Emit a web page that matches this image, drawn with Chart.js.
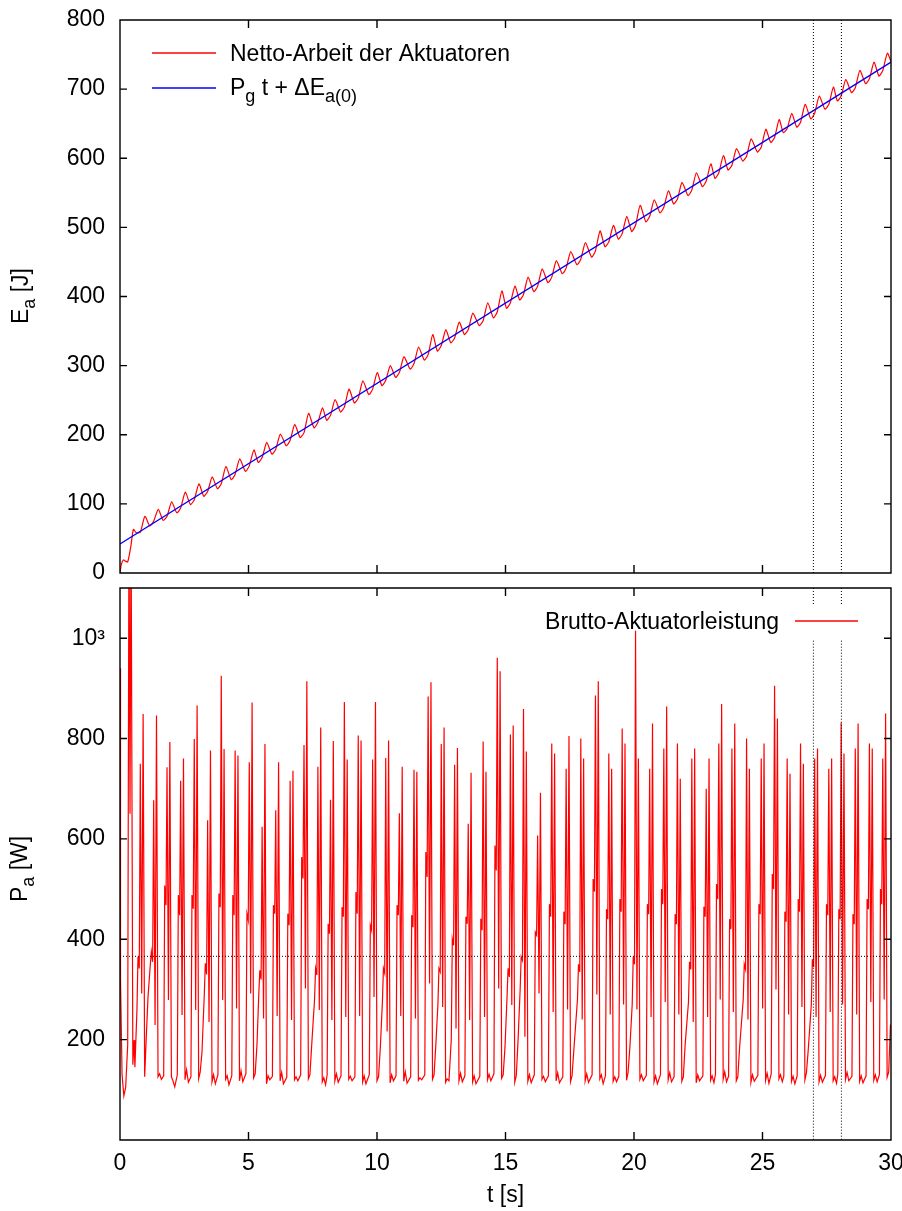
<!DOCTYPE html>
<html><head><meta charset="utf-8">
<script src="https://cdn.jsdelivr.net/npm/chart.js@4/dist/chart.umd.min.js"></script>
<style>
html,body{margin:0;padding:0;background:#fff;}
#wrap{position:relative;width:902px;height:1211px;background:#fff;}
canvas{position:absolute;left:0;}
#c1{top:0;} #c2{top:580px;}
</style></head><body>
<div id="wrap"><canvas id="c1" width="902" height="580"></canvas><canvas id="c2" width="902" height="631"></canvas></div>
<script>
// ---------- data ----------
const X_TICKS = [0,5,10,15,20,25,30];
const E_TICKS = [0,100,200,300,400,500,600,700,800];
const P_TICKS = [200,400,600,800,1000];
const MARK_T = [26.98, 28.07];
const P_MEAN = 366;
const FIT_T = [0, 30];
const FIT_E = [42, 739];

// time of the first power spike in each stride cycle [s]
const T_A = [0.79,1.31,1.83,2.36,2.89,3.41,3.94,4.48,5.03,5.53,6.06,6.62,7.16,7.70,8.19,8.73,9.27,9.83,10.34,10.87,11.44,11.99,12.50,13.02,13.55,14.13,14.68,15.19,15.70,16.25,16.80,17.36,17.93,18.50,19.02,19.54,20.06,20.61,21.16,21.69,22.25,22.81,23.30,23.81,24.38,24.95,25.47,25.96,26.48,27.03,27.58,28.06,28.61,29.16,29.68];

// net work curve: value before rise, at rise start and at peak of each cycle [J]
const E_PHASE = [-0.15, 0, 0.18];
const E_DIP_A = [58,68,76,87,99,111,122,135,147,160,172,184,196,210,221,233,246,258,271,283,295,308,321,333,345,358,369,383,395,407,420,433,446,457,472,483,494,508,521,534,546,559,571,583,596,609,623,637,645,657,671,683,695,708,719];
const E_DIP_B = [59,75,82,94,106,118,129,143,155,167,179,192,203,218,228,240,253,266,279,290,303,316,329,340,352,365,378,391,403,415,428,441,454,466,479,491,503,516,529,541,554,567,579,590,603,616,630,643,652,665,678,690,702,715,727];
const E_PEAK  = [82,92,103,117,129,139,154,165,178,189,201,215,231,239,251,266,278,290,300,313,327,345,352,363,376,391,408,415,428,440,452,465,478,495,503,516,532,540,553,565,579,592,604,614,628,642,656,665,678,690,703,714,727,739,752];
const E_START_T = [0,0.05,0.13,0.22,0.30,0.42,0.52];
const E_START   = [0,12,19,17,16,38,63];
const E_END_T = [30.05];
const E_END   = [734];

// gross actuator power: samples of each cycle [W]
const P_PHASE = [-0.13,-0.09,-0.04,0,0.055,0.11,0.17,0.23,0.30];
const P_RISE    = [260,350,128,130,126,290,130,128,132,290,127,125,130,280,130,128,126,130,275,128,126,130,270,200,128,127,132,285,300,130,128,126,280,130,128,127,270,129,130,126,275,128,131,127,280,129,132,127,128,270,129,131,127,128,130];
const P_PLAT    = [365,375,507,488,488,352,491,488,451,338,468,451,564,342,431,464,494,428,342,468,448,574,342,401,445,441,587,342,365,414,470,455,350,520,460,480,365,470,500,450,355,465,510,440,350,470,530,455,480,360,470,460,450,480,500];
const P_PDIP    = [342,355,468,448,461,330,464,448,438,320,451,428,521,329,411,445,451,418,332,448,424,524,335,388,431,418,537,325,358,408,445,430,335,495,440,455,350,450,470,430,340,445,480,420,340,450,500,435,455,345,448,440,430,460,470];
const P_SPIKE_A = [750,677,743,716,799,637,925,776,753,624,657,716,787,744,678,873,806,758,761,651,738,884,789,748,630,794,961,808,859,607,790,740,800,886,770,820,1015,740,780,790,760,700,790,780,800,760,905,760,790,760,740,832,780,790,760];
const P_MID     = [292,229,279,249,259,235,279,262,292,242,247,239,302,259,239,245,247,285,216,247,242,312,265,222,239,245,302,269,206,292,255,260,240,290,250,270,260,245,275,250,235,245,280,255,240,262,300,250,265,245,255,270,250,275,280];
const P_SPIKE_B = [849,846,793,760,866,776,779,766,872,789,753,736,914,822,795,758,796,873,796,744,734,912,822,781,732,734,934,826,774,692,770,805,760,914,740,790,760,830,864,720,780,760,869,830,740,790,840,730,750,780,760,770,830,780,850];
const P_LOW     = [126,126,126,120,122,116,121,118,124,112,118,120,122,116,118,121,116,118,114,117,119,121,115,118,116,120,123,115,117,121,118,116,118,122,117,119,121,116,120,117,114,119,121,118,115,119,122,117,120,116,118,121,117,119,125];
const P_BUMP    = [202,132,118,140,135,130,128,138,132,128,135,126,130,124,132,127,128,126,130,136,124,130,122,133,128,131,130,128,130,127,134,128,132,130,126,135,130,128,134,126,130,128,136,126,130,133,130,127,134,129,126,135,128,130,135];
const P_TAIL    = [285,121,106,115,175,112,110,116,190,120,112,118,190,110,115,118,112,185,118,113,120,190,118,116,112,118,185,200,114,116,114,180,115,112,116,185,118,112,116,190,118,114,116,185,117,113,116,112,180,115,113,118,114,116,230];
const P_START_T = [0,0.02,0.08,0.15,0.22,0.30,0.35,0.39,0.43,0.50,0.55,0.58];
const P_START   = [940,320,130,88,105,190,1250,650,1250,150,199,145];

// ---------- build point tables ----------
const eData = [];
E_START_T.forEach((t,i)=>eData.push({x:t,y:E_START[i]}));
T_A.forEach((ta,k)=>{
  const v=[E_DIP_A[k],E_DIP_B[k],E_PEAK[k]];
  E_PHASE.forEach((d,j)=>eData.push({x:+(ta+d).toFixed(3),y:v[j]}));
});
E_END_T.forEach((t,i)=>eData.push({x:t,y:E_END[i]}));

const pData = [];
P_START_T.forEach((t,i)=>pData.push({x:t,y:P_START[i]}));
T_A.forEach((ta,k)=>{
  const v=[P_RISE[k],P_PLAT[k],P_PDIP[k],P_SPIKE_A[k],P_MID[k],P_SPIKE_B[k],P_LOW[k],P_BUMP[k],P_TAIL[k]];
  P_PHASE.forEach((d,j)=>pData.push({x:+(ta+d).toFixed(3),y:v[j]}));
});
const fitData = FIT_T.map((t,i)=>({x:t,y:FIT_E[i]}));

const FONT = "'Liberation Sans', Arial, Helvetica, sans-serif";
Chart.defaults.font.family = FONT;
Chart.defaults.color = '#000';

function rich(ctx, parts, x, y, align){
  let w=0;
  parts.forEach(p=>{ctx.font=(p[1]?18:23)+'px '+FONT; w+=ctx.measureText(p[0]).width;});
  let cx = align==='center'? x-w/2 : align==='right'? x-w : x;
  parts.forEach(p=>{ctx.font=(p[1]?18:23)+'px '+FONT; ctx.fillText(p[0],cx,y+(p[1]?7:0)); cx+=ctx.measureText(p[0]).width;});
}

function framePlugin(yTicks){
  return {id:'frame', afterDatasetsDraw(chart){
    const {ctx, chartArea:a, scales:{x,y}} = chart;
    ctx.save();
    ctx.setLineDash([]);
    ctx.strokeStyle='#000'; ctx.lineWidth=1.4;
    ctx.beginPath();
    ctx.rect(a.left,a.top,a.right-a.left,a.bottom-a.top);
    X_TICKS.forEach(v=>{const px=x.getPixelForValue(v); ctx.moveTo(px,a.bottom); ctx.lineTo(px,a.bottom-8); ctx.moveTo(px,a.top); ctx.lineTo(px,a.top+8);});
    yTicks.forEach(v=>{const py=y.getPixelForValue(v); ctx.moveTo(a.left,py); ctx.lineTo(a.left+7,py); ctx.moveTo(a.right,py); ctx.lineTo(a.right-7,py);});
    ctx.stroke(); ctx.restore();
  }};
}

const dotted = {borderColor:'#000', borderWidth:1, borderDash:[1,2], pointRadius:0, tension:0, fill:false};

function noPad(s){ s.paddingTop=0; s.paddingBottom=0; s.paddingLeft=0; s.paddingRight=0; }

function yScale(min,max,ticks,cb){
  return {type:'linear', min, max,
    afterBuildTicks:s=>{s.ticks=ticks.map(v=>({value:v}));},
    afterFit:s=>{s.width=120; noPad(s);},
    grid:{display:false, drawTicks:false}, border:{display:false},
    ticks:{font:{size:23}, padding:15, color:'#000', callback:cb||(v=>v)}};
}

function legendLine(ctx,color,x1,x2,y){
  ctx.save(); ctx.setLineDash([]); ctx.strokeStyle=color; ctx.lineWidth=1.5;
  ctx.beginPath(); ctx.moveTo(x1,y); ctx.lineTo(x2,y); ctx.stroke(); ctx.restore();
}

// ---------- top chart ----------
new Chart(document.getElementById('c1'), {
  type:'line',
  data:{datasets:[
    Object.assign({data:[{x:MARK_T[0],y:0},{x:MARK_T[0],y:800}]}, dotted),
    Object.assign({data:[{x:MARK_T[1],y:0},{x:MARK_T[1],y:800}]}, dotted),
    {data:fitData, borderColor:'#0000ff', borderWidth:1.3, pointRadius:0, tension:0},
    {data:eData, borderColor:'#ff0000', borderWidth:1.2, pointRadius:0, tension:0.2}
  ]},
  options:{responsive:false, animation:false, events:[],
    layout:{autoPadding:false, padding:{top:20,right:11,bottom:7,left:0}},
    plugins:{legend:{display:false}, tooltip:{enabled:false}},
    scales:{
      x:{type:'linear', min:0, max:30, display:false, afterFit:s=>{s.height=0; noPad(s);}},
      y:yScale(0,800,E_TICKS)
    }},
  plugins:[framePlugin(E_TICKS), {id:'txt1', afterDraw(chart){
    const ctx=chart.ctx;
    legendLine(ctx,'#ff0000',152,216,53);
    legendLine(ctx,'#0000ff',152,216,88);
    ctx.save(); ctx.fillStyle='#000'; ctx.textBaseline='alphabetic';
    rich(ctx,[['Netto-Arbeit der Aktuatoren',0]],230,61,'left');
    rich(ctx,[['P',0],['g',1],[' t + \u0394E',0],['a(0)',1]],230,95,'left');
    ctx.translate(28,296); ctx.rotate(-Math.PI/2);
    rich(ctx,[['E',0],['a',1],[' [J]',0]],0,0,'center');
    ctx.restore();
  }}]
});

// ---------- bottom chart ----------
function vSeg(t){return [{x:t,y:1100},{x:t,y:1068},{x:t,y:null},{x:t,y:995},{x:t,y:0}];}
new Chart(document.getElementById('c2'), {
  type:'line',
  data:{datasets:[
    Object.assign({data:[{x:0,y:P_MEAN},{x:30,y:P_MEAN}]}, dotted),
    Object.assign({data:vSeg(MARK_T[0]), spanGaps:false}, dotted),
    Object.assign({data:vSeg(MARK_T[1]), spanGaps:false}, dotted),
    {data:pData, borderColor:'#ff0000', borderWidth:1.2, pointRadius:0, tension:0}
  ]},
  options:{responsive:false, animation:false, events:[],
    layout:{autoPadding:false, padding:{top:8,right:11,bottom:0,left:0}},
    plugins:{legend:{display:false}, tooltip:{enabled:false}},
    scales:{
      x:{type:'linear', min:0, max:30,
        afterBuildTicks:s=>{s.ticks=X_TICKS.map(v=>({value:v}));},
        afterFit:s=>{s.height=71; noPad(s);},
        grid:{display:false, drawTicks:false}, border:{display:false},
        ticks:{font:{size:23}, padding:10, color:'#000', maxRotation:0, autoSkip:false}},
      y:yScale(0,1100,P_TICKS,v=>v===1000?'10\u00B3':v)
    }},
  plugins:[framePlugin(P_TICKS), {id:'txt2', afterDraw(chart){
    const ctx=chart.ctx;
    legendLine(ctx,'#ff0000',795,858,41);
    ctx.save(); ctx.fillStyle='#000'; ctx.textBaseline='alphabetic';
    rich(ctx,[['Brutto-Aktuatorleistung',0]],779,49,'right');
    rich(ctx,[['t [s]',0]],505.5,622,'center');
    ctx.translate(27,289); ctx.rotate(-Math.PI/2);
    rich(ctx,[['P',0],['a',1],[' [W]',0]],0,0,'center');
    ctx.restore();
  }}]
});
</script>
</body></html>
